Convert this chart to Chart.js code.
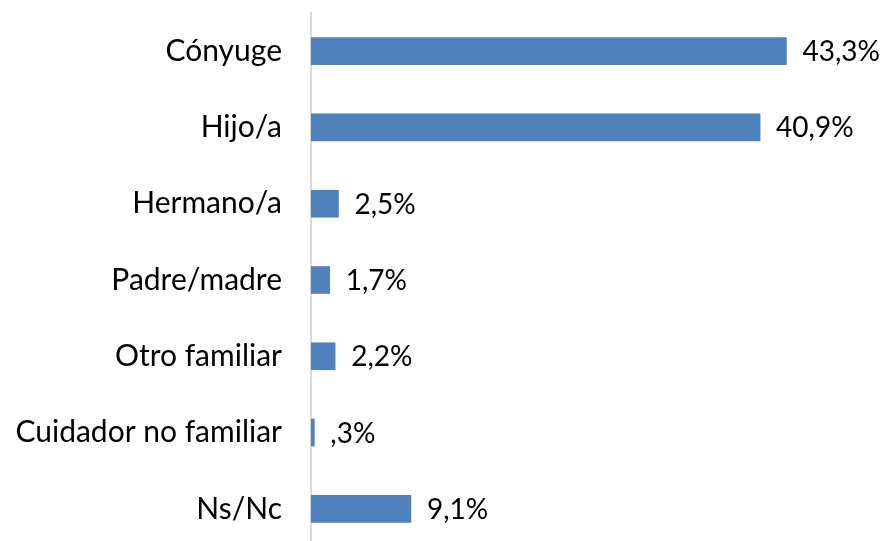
<!DOCTYPE html>
<html lang="es">
<head>
<meta charset="UTF-8">
<title>Parentesco</title>
<style>
  html, body { margin: 0; padding: 0; background: #fff; overflow: hidden; }
  #wrap { width: 883px; height: 547px; position: relative; }
</style>
</head>
<body>
<div id="wrap"><canvas id="myChart"></canvas></div>
<script src="https://cdn.jsdelivr.net/npm/chart.js"></script>
<script>
    // categories and percentages
    const categories = ['Cónyuge', 'Hijo/a', 'Hermano/a', 'Padre/madre', 'Otro familiar', 'Cuidador no familiar', 'Ns/Nc'];
    const values = [43.3, 40.9, 2.5, 1.7, 2.2, 0.3, 9.1];

    const fontFamily = 'Lato, "Open Sans", sans-serif';

    // spanish style: comma decimal, no leading zero (",3%")
    function formatValue(v) {
        let s = v.toFixed(1).replace('.', ',');
        if (s.startsWith('0,')) s = s.slice(1);
        return s + '%';
    }

    // write the value just after each bar end
    const valueLabels = {
        id: 'valueLabels',
        afterDatasetsDraw(chart) {
            const ctx = chart.ctx;
            const meta = chart.getDatasetMeta(0);
            ctx.save();
            ctx.font = '28px ' + fontFamily;
            ctx.fillStyle = '#000';
            ctx.textAlign = 'left';
            ctx.textBaseline = 'middle';
            meta.data.forEach((bar, i) => {
                ctx.fillText(formatValue(values[i]), bar.x + 16, bar.y + 1);
            });
            ctx.restore();
        }
    };

    const ctx = document.getElementById('myChart').getContext('2d');
    new Chart(ctx, {
        type: 'bar',
        data: {
            labels: categories,
            datasets: [{
                data: values,
                backgroundColor: '#4F81BD',
                barThickness: 27
            }]
        },
        options: {
            indexAxis: 'y',
            responsive: true,
            maintainAspectRatio: false,
            animation: false,
            layout: { padding: { top: 13, right: 23, bottom: 0, left: 0 } },
            plugins: {
                legend: { display: false },
                tooltip: { enabled: false }
            },
            scales: {
                x: {
                    display: false,
                    min: 0,
                    max: 50
                },
                y: {
                    grid: { display: false, drawTicks: false },
                    border: { display: true, color: '#d9d9d9', width: 2 },
                    ticks: {
                        color: '#000',
                        padding: 29,
                        font: { family: fontFamily, size: 30 }
                    },
                    afterFit(scale) {
                        scale.width = 311;
                        scale.paddingTop = 0;
                        scale.paddingBottom = 0;
                    }
                }
            }
        },
        plugins: [valueLabels]
    });
</script>
</body>
</html>
